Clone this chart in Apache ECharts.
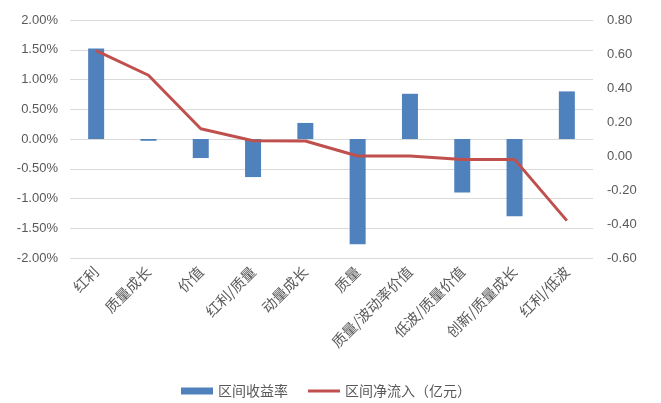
<!DOCTYPE html>
<html>
<head>
<meta charset="utf-8">
<script src="https://cdn.jsdelivr.net/npm/echarts@6/dist/echarts.min.js"></script>
<style>
html,body{margin:0;padding:0;background:#fff;}
#c{width:661px;height:403px;}
</style>
</head>
<body>
<div id="c"></div>
<script>
const categories = ["红利","质量成长","价值","红利/质量","动量成长","质量","质量/波动率价值","低波/质量价值","创新/质量成长","红利/低波"];
const returnPct = [1.52, -0.03, -0.32, -0.64, 0.27, -1.77, 0.76, -0.90, -1.30, 0.80];
const netInflow = [0.62, 0.475, 0.16, 0.09, 0.088, 0.00, 0.00, -0.02, -0.02, -0.38];
const seriesNames = ["区间收益率", "区间净流入（亿元）"];

const chart = echarts.init(document.getElementById('c'));
const font = '"Noto Sans CJK SC", "Liberation Sans", sans-serif';
chart.setOption({
  backgroundColor: '#fff',
  animation: false,
  grid: {left: 70, right: 68, top: 20, bottom: 145},
  legend: {
    top: 379,
    left: 176,
    itemGap: 20,
    itemWidth: 32,
    itemHeight: 7,
    symbolKeepAspect: true,
    textStyle: {color: '#595959', fontSize: 14, fontFamily: font},
    data: [
      {name: seriesNames[0], icon: 'rect'},
      {name: seriesNames[1], icon: 'path://M0,0H34V3H0Z', itemWidth: 35}
    ]
  },
  xAxis: {
    type: 'category',
    data: categories,
    axisLine: {show: false},
    axisTick: {show: false},
    axisLabel: {rotate: 45, color: '#595959', fontSize: 14.5, fontFamily: font, margin: 11, interval: 0}
  },
  yAxis: [
    {
      type: 'value', min: -2, max: 2, interval: 0.5,
      axisLine: {show: false}, axisTick: {show: false},
      splitLine: {lineStyle: {color: '#d9d9d9', width: 1}},
      axisLabel: {color: '#595959', fontSize: 13, fontFamily: '"Liberation Sans", Arial, sans-serif', margin: 12,
        formatter: v => v.toFixed(2) + '%'}
    },
    {
      type: 'value', min: -0.6, max: 0.8, interval: 0.2,
      axisLine: {show: false}, axisTick: {show: false},
      splitLine: {show: false},
      axisLabel: {color: '#595959', fontSize: 13, fontFamily: '"Liberation Sans", Arial, sans-serif', margin: 14,
        formatter: v => v.toFixed(2)}
    }
  ],
  series: [
    {
      name: seriesNames[0], type: 'bar', yAxisIndex: 0,
      data: returnPct, barWidth: 16,
      itemStyle: {color: '#4F81BD'}
    },
    {
      name: seriesNames[1], type: 'line', yAxisIndex: 1,
      data: netInflow, symbol: 'none', showSymbol: false,
      lineStyle: {color: '#C0504D', width: 3},
      itemStyle: {color: '#C0504D'}
    }
  ]
});
</script>
</body>
</html>
